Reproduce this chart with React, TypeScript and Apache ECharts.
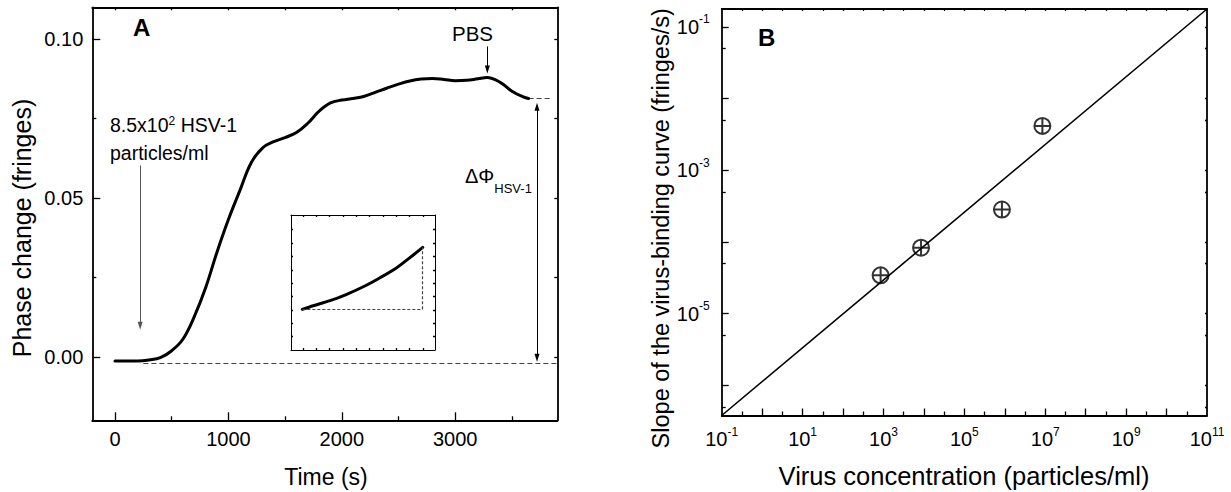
import React, { useEffect, useRef } from "react";
import * as echarts from "echarts";

const FONT = "'Liberation Sans', Arial, Helvetica, sans-serif";

// ---------- Panel A: binding curve ----------
const timeS = [0, 100, 200, 300, 400, 500, 600, 700, 800, 900, 1000, 1100, 1200, 1300, 1400, 1500, 1600, 1700, 1800, 1900, 2000, 2100, 2200, 2300, 2400, 2500, 2600, 2700, 2800, 2900, 3000, 3100, 3200, 3280, 3400, 3500, 3600, 3647];
const phaseFringes = [-0.0013, -0.0013, -0.0013, -0.001, -0.0003, 0.0019, 0.0056, 0.0127, 0.0218, 0.033, 0.0432, 0.0522, 0.061, 0.0657, 0.0677, 0.069, 0.0706, 0.0735, 0.0773, 0.0799, 0.0808, 0.0813, 0.082, 0.0833, 0.0846, 0.0858, 0.0868, 0.0874, 0.0876, 0.0873, 0.0869, 0.087, 0.0875, 0.0879, 0.0863, 0.0836, 0.0818, 0.0813];
const timeRange = [-200, 3900];
const phaseRange = [-0.02, 0.11];
const timeTicks = [0, 1000, 2000, 3000];
const timeMinorTicks = [500, 1500, 2500, 3500];
const timeTopTicks = [0, 500, 1000, 1500, 2000, 2500, 3000, 3500];
const phaseTicks = [0, 0.05, 0.1];
const phaseMinorTicks = [0.025, 0.075];
const phaseRightTicks = [0, 0.025, 0.05, 0.075, 0.1];
// annotation arrows: [time, phaseFrom, phaseTo]
const injectionArrow = [222, 0.0602, 0.0098];
const pbsArrow = [3283, 0.0977, 0.0904];
const deltaArrow = [3721, 0.0787, -0.0003];
// dashed guides: [timeFrom, timeTo, level]
const baselineDash = [250, 3900, -0.0019];
const plateauDash = [3647, 3858, 0.0813];

// ---------- Inset ----------
const insetX = [0.85, 1.67, 2.93, 4.18, 5.42, 6.68, 7.93, 9.17, 9.88];
const insetY = [3.04, 3.31, 3.69, 4.17, 4.73, 5.41, 6.16, 7.11, 7.68];
const insetXRange = [0, 10.8];
const insetYRange = [0, 10.1];
const insetXTicks = [0.9, 1.9, 2.9, 3.9, 4.9, 5.9, 6.9, 7.9, 8.9, 9.9];
const insetYTicks = [1, 2, 3, 4, 5, 6, 7, 8, 9];

// ---------- Panel B: slope vs concentration ----------
const concentration = [8.5e2, 8.5e3, 8.5e5, 8.5e6];
const bindingSlope = [3.42e-5, 8.3e-5, 2.83e-4, 4.15e-3];
const fitConcentration = [0.1, 1e11];
const fitSlope = [3.8e-7, 0.177];
const concRange = [0.1, 1e11];
const slopeRange = [3.8e-7, 0.177];
const concLabelTicks = [1e-1, 1e1, 1e3, 1e5, 1e7, 1e9, 1e11];
const concMajorTicks = [1, 10, 100, 1e3, 1e4, 1e5, 1e6, 1e7, 1e8, 1e9, 1e10];
const concMinorTicks = [0.3162, 3.162, 31.62, 316.2, 3162, 31623, 316228, 3.162e6, 3.162e7, 3.162e8, 3.162e9, 3.162e10];
const concTopTicks = [0.3162, 1, 3.162, 10, 31.62, 100, 316.2, 1e3, 3162, 1e4, 31623, 1e5, 316228, 1e6, 3.162e6, 1e7, 3.162e7, 1e8, 3.162e8, 1e9, 3.162e9, 1e10, 3.162e10];
const slopeLabelTicks = [1e-5, 1e-3, 1e-1];
const slopeMajorTicks = [1e-6, 1e-5, 1e-4, 1e-3, 1e-2, 1e-1];
const slopeMinorTicks = [5e-7, 5e-6, 5e-5, 5e-4, 5e-3, 5e-2];
const slopeRightTicks = [5e-7, 1e-6, 5e-6, 1e-5, 5e-5, 1e-4, 5e-4, 1e-3, 5e-3, 1e-2, 5e-2, 1e-1];

const POW_RICH = {
  a: { fontSize: 20, lineHeight: 27, fontFamily: FONT, color: "#000" },
  s: { fontSize: 12, lineHeight: 12, verticalAlign: "top", fontFamily: FONT, color: "#000" },
};

function powLabel(v: number) {
  const e = Math.round(Math.log10(v));
  return `{a|10}{s|${e}}`;
}

type Spec = {
  grid: number;
  type: "value" | "log";
  range: number[];
  position: string;
  ticks: number[];
  tickLen: number;
  line?: boolean;
  labels?: number[];
  formatter?: (v: number) => string;
  margin?: number;
  rich?: boolean;
};

function axis(s: Spec) {
  const o: any = {
    type: s.type,
    gridIndex: s.grid,
    position: s.position,
    min: s.range[0],
    max: s.range[1],
    splitLine: { show: false },
    minorTick: { show: false },
    minorSplitLine: { show: false },
    axisLine: { show: !!s.line, onZero: false, lineStyle: { color: "#000", width: 1.8 } },
    axisTick: { show: true, inside: true, length: s.tickLen, customValues: s.ticks, lineStyle: { color: "#000", width: 1.3 } },
    axisLabel: s.labels
      ? {
          show: true,
          customValues: s.labels,
          formatter: s.formatter,
          margin: s.margin ?? 8,
          color: "#000",
          fontSize: 20,
          fontFamily: FONT,
          rich: s.rich ? POW_RICH : undefined,
        }
      : { show: false },
    axisPointer: { show: false },
  };
  if (s.type === "log") o.logBase = 10;
  return o;
}

function zip(a: number[], b: number[]) {
  return a.map((v, i) => [v, b[i]]);
}

function seg(x1: number, y1: number, x2: number, y2: number, lineStyle: any, endSym: string[] = ["none", "none"]) {
  const size = [5, 8];
  return [
    { coord: [x1, y1], symbol: endSym[0], symbolSize: size, lineStyle },
    { coord: [x2, y2], symbol: endSym[1], symbolSize: size, lineStyle },
  ];
}

function text(x: number, y: number, t: string, fontSize: number, extra: any = {}) {
  const { style, ...rest } = extra;
  return {
    type: "text",
    x,
    y,
    z: 100,
    silent: true,
    style: {
      text: t,
      fontSize,
      fontFamily: FONT,
      fill: "#000",
      align: "left",
      verticalAlign: "middle",
      textAlign: "left",
      textVerticalAlign: "middle",
      ...(style || {}),
    },
    ...rest,
  };
}

function buildOption() {
  const solidArrow = { type: "solid", color: "#000", width: 1 };
  const grayArrow = { type: "solid", color: "#555", width: 1 };
  const dash = { type: [5, 3], color: "#444", width: 1.2 };

  const xAxis = [
    axis({ grid: 0, type: "value", range: timeRange, position: "bottom", ticks: timeTicks, tickLen: 8, line: true, labels: timeTicks, formatter: (v) => String(v), margin: 9 }),
    axis({ grid: 0, type: "value", range: timeRange, position: "bottom", ticks: timeMinorTicks, tickLen: 4 }),
    axis({ grid: 0, type: "value", range: timeRange, position: "top", ticks: timeTopTicks, tickLen: 3, line: true }),
    axis({ grid: 1, type: "log", range: concRange, position: "bottom", ticks: concMajorTicks, tickLen: 7, line: true, labels: concLabelTicks, formatter: powLabel, margin: 10, rich: true }),
    axis({ grid: 1, type: "log", range: concRange, position: "bottom", ticks: concMinorTicks, tickLen: 4 }),
    axis({ grid: 1, type: "log", range: concRange, position: "top", ticks: concTopTicks, tickLen: 2, line: true }),
    axis({ grid: 2, type: "value", range: insetXRange, position: "bottom", ticks: insetXTicks, tickLen: 2, line: true }),
    axis({ grid: 2, type: "value", range: insetXRange, position: "top", ticks: insetXTicks, tickLen: 2, line: true }),
  ];
  xAxis[6].axisLine.lineStyle.width = 1;
  xAxis[7].axisLine.lineStyle.width = 1;

  const yAxis = [
    axis({ grid: 0, type: "value", range: phaseRange, position: "left", ticks: phaseTicks, tickLen: 8, line: true, labels: phaseTicks, formatter: (v) => v.toFixed(2), margin: 9 }),
    axis({ grid: 0, type: "value", range: phaseRange, position: "left", ticks: phaseMinorTicks, tickLen: 4 }),
    axis({ grid: 0, type: "value", range: phaseRange, position: "right", ticks: phaseRightTicks, tickLen: 3, line: true }),
    axis({ grid: 1, type: "log", range: slopeRange, position: "left", ticks: slopeMajorTicks, tickLen: 7, line: true, labels: slopeLabelTicks, formatter: powLabel, margin: 12, rich: true }),
    axis({ grid: 1, type: "log", range: slopeRange, position: "left", ticks: slopeMinorTicks, tickLen: 4 }),
    axis({ grid: 1, type: "log", range: slopeRange, position: "right", ticks: slopeRightTicks, tickLen: 2, line: true }),
    axis({ grid: 2, type: "value", range: insetYRange, position: "left", ticks: insetYTicks, tickLen: 2, line: true }),
    axis({ grid: 2, type: "value", range: insetYRange, position: "right", ticks: insetYTicks, tickLen: 2, line: true }),
  ];
  yAxis[6].axisLine.lineStyle.width = 1;
  yAxis[7].axisLine.lineStyle.width = 1;

  return {
    animation: false,
    backgroundColor: "#fff",
    grid: [
      { left: 92.3, top: 7.3, right: 673.7, bottom: 71.7, containLabel: false },
      { left: 721.7, top: 9, right: 24, bottom: 76.5, containLabel: false },
      { left: 291, top: 215, width: 144, height: 135, containLabel: false },
    ],
    xAxis,
    yAxis,
    series: [
      {
        type: "line",
        name: "binding",
        xAxisIndex: 0,
        yAxisIndex: 0,
        data: zip(timeS, phaseFringes),
        showSymbol: false,
        symbol: "none",
        smooth: 0.4,
        lineStyle: { color: "#000", width: 3, join: "round", cap: "round" },
        z: 5,
        silent: true,
        markLine: {
          silent: true,
          symbol: ["none", "none"],
          label: { show: false },
          emphasis: { disabled: true },
          data: [
            seg(injectionArrow[0], injectionArrow[1], injectionArrow[0], injectionArrow[2], grayArrow, ["none", "triangle"]),
            seg(pbsArrow[0], pbsArrow[1], pbsArrow[0], pbsArrow[2], solidArrow, ["none", "triangle"]),
            seg(deltaArrow[0], deltaArrow[1], deltaArrow[0], deltaArrow[2], solidArrow, ["triangle", "triangle"]),
            seg(baselineDash[0], baselineDash[2], baselineDash[1], baselineDash[2], dash),
            seg(plateauDash[0], plateauDash[2], plateauDash[1], plateauDash[2], dash),
          ],
        },
      },
      {
        type: "line",
        name: "inset",
        xAxisIndex: 6,
        yAxisIndex: 6,
        data: zip(insetX, insetY),
        showSymbol: false,
        symbol: "none",
        smooth: 0.3,
        lineStyle: { color: "#000", width: 3, cap: "round" },
        silent: true,
        markLine: {
          silent: true,
          symbol: ["none", "none"],
          label: { show: false },
          emphasis: { disabled: true },
          data: [
            seg(insetX[0], insetY[0], insetX[insetX.length - 1], insetY[0], { type: [3, 2], color: "#444", width: 1.2 }),
            seg(insetX[insetX.length - 1], insetY[0], insetX[insetX.length - 1], insetY[insetY.length - 1], { type: [3, 2], color: "#444", width: 1.2 }),
          ],
        },
      },
      {
        type: "line",
        name: "fit",
        xAxisIndex: 3,
        yAxisIndex: 3,
        data: zip(fitConcentration, fitSlope),
        showSymbol: false,
        symbol: "none",
        lineStyle: { color: "#000", width: 1.6 },
        silent: true,
      },
      {
        type: "scatter",
        name: "slope",
        xAxisIndex: 3,
        yAxisIndex: 3,
        data: zip(concentration, bindingSlope),
        symbol: "path://M0,-8A8,8,0,1,1,0,8A8,8,0,1,1,0,-8Z M-8,0L8,0 M0,-8L0,8",
        symbolSize: 16,
        itemStyle: { color: "rgba(0,0,0,0)", borderColor: "#000", borderWidth: 2 },
        silent: true,
        z: 6,
      },
    ],
    graphic: [
      text(133, 27, "A", 24, { style: { fontWeight: "bold" } }),
      text(758, 37, "B", 24, { style: { fontWeight: "bold" } }),
      text(472.5, 33.3, "PBS", 20.5, { style: { align: "center", textAlign: "center" } }),
      text(110, 125, "{a|8.5x10}{s|2}{a| HSV-1}", 19, {
        style: {
          rich: {
            a: { fontSize: 19.5, lineHeight: 20, fontFamily: FONT, color: "#000" },
            s: { fontSize: 12, lineHeight: 10, verticalAlign: "top", fontFamily: FONT, color: "#000" },
          },
        },
      }),
      text(110, 152.5, "particles/ml", 19.5),
      text(465, 175.5, "{a|ΔΦ}{b|HSV-1}", 20, {
        style: {
          rich: {
            a: { fontSize: 20, lineHeight: 38, fontFamily: FONT, color: "#000" },
            b: { fontSize: 13, lineHeight: 13, verticalAlign: "bottom", fontFamily: FONT, color: "#000" },
          },
        },
      }),
      text(326, 476.5, "Time (s)", 23, { style: { align: "center", textAlign: "center" } }),
      text(964, 475.8, "Virus concentration (particles/ml)", 25.5, { style: { align: "center", textAlign: "center" } }),
      text(21.7, 228, "Phase change (fringes)", 25, { rotation: Math.PI / 2, style: { align: "center", textAlign: "center" } }),
      text(660.8, 228.3, "Slope of the virus-binding curve (fringes/s)", 23.5, { rotation: Math.PI / 2, style: { align: "center", textAlign: "center" } }),
    ],
  };
}

export default function App() {
  const ref = useRef<HTMLDivElement>(null);
  useEffect(() => {
    if (!ref.current) return;
    const chart = echarts.init(ref.current, null, { renderer: "svg" });
    chart.setOption(buildOption() as any);
    return () => chart.dispose();
  }, []);
  return (
    <div
      ref={ref}
      style={{ position: "absolute", left: 0, top: 0, width: 1231, height: 492, background: "#fff" }}
    />
  );
}
